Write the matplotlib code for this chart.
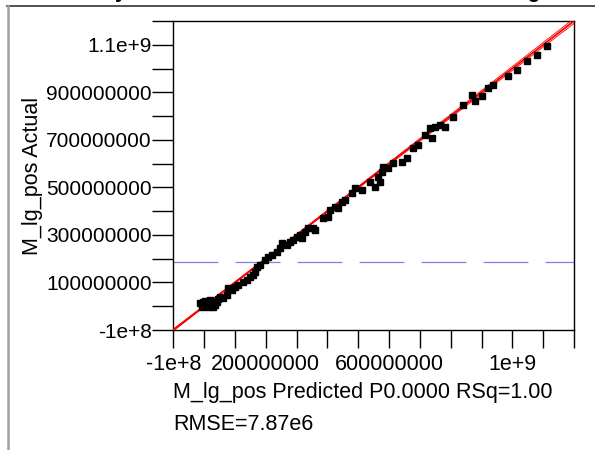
import numpy as np
import matplotlib
matplotlib.use("Agg")
import matplotlib.pyplot as plt
from matplotlib.lines import Line2D

plt.rcParams['font.family'] = ['Liberation Sans', 'DejaVu Sans']

# values, in millions
predicted_m = [
    -13.5, -2.7, 8.2, 13.6, 24.4, 29.8, 40.6, -8.1, 19.0, 35.2,
    51.4, 62.2, 73.0, 78.4, 89.3, 100.1, 110.9, 127.1, 137.9, 148.7,
    159.6, 165.0, 170.4, 181.2, 197.4, 208.2, 219.0, 235.3, 246.1, 251.5,
    267.7, 278.5, 289.3, 300.2, 311.0, 316.4, 327.2, 338.0, 354.2, 359.6,
    386.7, 402.9, 408.3, 424.5, 435.3, 446.2, 457.0, 478.6, 489.4, 511.0,
    538.1, 554.3, 565.1, 570.5, 575.9, 581.3, 597.6, 613.8, 640.8, 657.0,
    678.7, 694.9, 716.5, 732.8, 738.2, 749.0, 765.2, 781.4, 808.5, 840.9,
    867.9, 878.8, 900.4, 922.0, 938.2, 986.9, 1013.9, 1046.4, 1078.8, 1111.3,
    -5.0, 4.0, 16.0, 30.0, 46.0,
]
actual_m = [
    12.3, 19.3, 5.3, -1.8, 12.3, -1.8, 19.3, -1.8, 26.3, 5.3,
    40.4, 33.3, 47.4, 75.4, 68.4, 82.5, 89.5, 103.5, 110.5, 124.6,
    131.6, 145.6, 166.7, 173.7, 194.7, 208.8, 215.8, 229.8, 243.9, 264.9,
    257.9, 271.9, 278.9, 293.0, 300.0, 286.0, 314.0, 328.1, 328.1, 321.0,
    370.2, 377.2, 405.3, 419.3, 412.3, 440.3, 447.4, 475.4, 496.5, 489.5,
    524.6, 503.5, 545.6, 524.6, 566.7, 587.7, 580.7, 601.8, 608.8, 622.8,
    664.9, 678.9, 721.0, 749.1, 707.0, 756.1, 763.2, 756.1, 798.2, 847.4,
    889.5, 861.4, 882.5, 917.5, 931.6, 966.7, 994.7, 1029.8, 1057.9, 1093.0,
    8.0, 24.0, 22.0, 16.0, 30.0,
]
mean_actual = 187.6e6

x_ticks = np.arange(-1e8, 1.21e9, 1e8)
x_label_at = {-1e8: "-1e+8", 2e8: "200000000", 6e8: "600000000", 1e9: "1e+9"}
y_ticks = np.arange(-1e8, 1.21e9, 1e8)
y_label_at = {-1e8: "-1e+8", 1e8: "100000000", 3e8: "300000000", 5e8: "500000000",
              7e8: "700000000", 9e8: "900000000", 1.1e9: "1.1e+9"}

pred = np.array(predicted_m) * 1e6
act = np.array(actual_m) * 1e6

fig = plt.figure(figsize=(5.95, 4.5), dpi=100)
W, H = 595, 450
ax = fig.add_axes([173.3 / W, 1 - 330 / H, (574 - 173.3) / W, (330 - 21) / H])

# fit line and confidence curves
xs = np.linspace(-1e8, 1.2e9, 200)
ax.plot(xs, xs, color="red", lw=1.3, zorder=3)
half = 2.5e6 * np.sqrt(1 + ((xs - mean_actual) / 2.5e8) ** 2)
ax.plot(xs, xs + half, color="red", lw=0.6, zorder=3)
ax.plot(xs, xs - half, color="red", lw=0.6, zorder=3)

ax.axhline(mean_actual, color="#7f7ff2", lw=0.9, ls=(0, (36, 13.6)), zorder=2)
ax.plot(pred, act, ls="none", marker="s", ms=4, color="black", zorder=4)

ax.set_xlim(-1e8, 1.2e9)
ax.set_ylim(-1e8, 1.2e9)
ax.set_xticks(x_ticks)
ax.set_xticklabels([x_label_at.get(round(t), "") for t in x_ticks])
ax.set_yticks(y_ticks)
ax.set_yticklabels([y_label_at.get(round(t), "") for t in y_ticks])
ax.tick_params(axis="both", direction="out", length=15, width=1, color="black",
               labelsize=15, colors="black")
ax.tick_params(axis="x", length=13, pad=4, labelsize=15.5)
ax.tick_params(axis="y", pad=0.5)
for s in ax.spines.values():
    s.set_linewidth(1)
    s.set_color("black")

ax.set_ylabel("M_lg_pos Actual", fontsize=15.5)
ax.yaxis.set_label_coords((43 - 173.3) / 400.7, 0.5)
fig.text(173 / W, 1 - 398 / H, "M_lg_pos Predicted P0.0000 RSq=1.00",
         fontsize=15.5, ha="left", va="baseline")
fig.text(173 / W, 1 - 430 / H, "RMSE=7.87e6", fontsize=15.5, ha="left", va="baseline")

# clipped report title and outline frame
fig.text(30 / W, 1 + 3 / H, "Actual by Predicted Plot for Validation Set Testing",
         fontsize=15.5, fontweight="bold", ha="left", va="baseline")
fig.add_artist(Line2D([7 / W, 1], [1 - 5.5 / H, 1 - 5.5 / H], color="#333333", lw=1.2))
fig.add_artist(Line2D([7.5 / W, 7.5 / W], [0, 1 - 5.5 / H], color="#a0a0a0", lw=1.8))

fig.savefig("out.png", dpi=100)
